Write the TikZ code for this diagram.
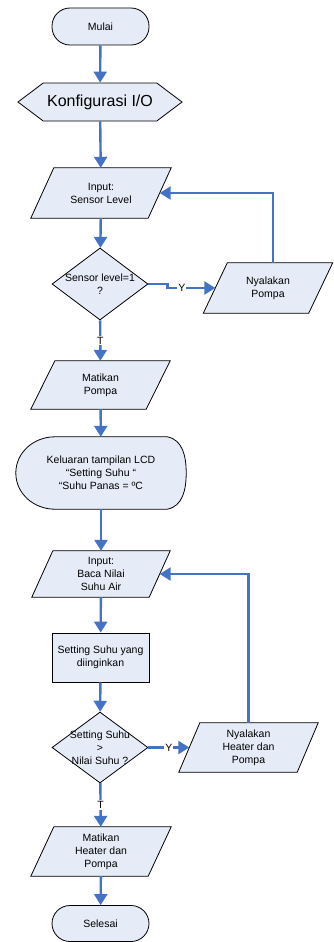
\documentclass[tikz,border=0pt]{standalone}
\usepackage{fontspec}
\setmainfont{Liberation Sans}
\usetikzlibrary{shapes.geometric,shapes.symbols,arrows.meta,backgrounds}
\definecolor{alirbiru}{RGB}{68,114,196}
\definecolor{isibiru}{RGB}{230,236,247}

% jajaran genjang di belakang node #1, geser atas #2
\newcommand{\jajargenjang}[2]{%
    \begin{scope}[on background layer]
        \draw[kotak] ([xshift=#2]#1.north west) -- (#1.north east)
            -- ([xshift=-#2]#1.south east) -- (#1.south west) -- cycle;
    \end{scope}}

\begin{document}
\begin{tikzpicture}[x=1pt,y=-1pt,
    every node/.style={font=\fontsize{10.5}{13}\selectfont, align=center},
    kotak/.style={draw=black, line width=0.8pt, fill=isibiru, inner sep=0pt},
    terminal/.style={kotak, rounded corners=18pt, minimum width=97pt, minimum height=37pt},
    masukan/.style={inner sep=0pt, minimum width=140pt, minimum height=49pt},
    keputusan/.style={kotak, diamond, minimum width=96pt, minimum height=72pt},
    alir/.style={draw=alirbiru, line width=2.4pt, -{Triangle[width=13pt,length=11pt]}},
    ket/.style={fill=white, inner sep=1pt}]

    \useasboundingbox (0,0) rectangle (333,942);

    % mulai dan konfigurasi
    \node[terminal] (mulai) at (100.5,26.5) {Mulai};
    \node[kotak, signal, signal to=west and east, signal pointer angle=74,
        minimum width=164pt, minimum height=38pt,
        font=\fontsize{16}{19}\selectfont] (konfig) at (100,102) {Konfigurasi I/O};

    % bagian sensor level
    \node[masukan, minimum height=50pt] (in1) at (101,193) {Input:\\Sensor Level};
    \jajargenjang{in1}{23pt}
    \node[keputusan] (d1) at (100,284) {};
    \node (d1t) at (d1) {Sensor level=1\\?};
    \node[masukan, minimum width=129pt, minimum height=50pt] (pompa1) at (268,288) {Nyalakan\\Pompa};
    \jajargenjang{pompa1}{24pt}
    \node[masukan, minimum width=139pt, minimum height=48pt] (mati1) at (100.5,385) {Matikan\\Pompa};
    \jajargenjang{mati1}{24pt}

    % tampilan LCD
    \node[minimum width=170pt, minimum height=72pt, inner sep=0pt] (lcd) at (101,473)
        {Keluaran tampilan LCD\\“Setting Suhu “\\“Suhu Panas = ºC};
    \begin{scope}[on background layer]
        \draw[kotak] ([xshift=39pt]lcd.north west) -- ([xshift=-19pt]lcd.north east)
            to[out=-10,in=90] (lcd.east) to[out=-90,in=10] ([xshift=-19pt]lcd.south east)
            -- ([xshift=39pt]lcd.south west) to[out=180,in=-90] (lcd.west)
            to[out=90,in=180] cycle;
    \end{scope}

    % bagian suhu
    \node[masukan, minimum width=138pt, minimum height=46pt] (in2) at (101,574) {Input:\\Baca Nilai\\Suhu Air};
    \jajargenjang{in2}{21pt}
    \node[kotak, minimum width=97pt, minimum height=49pt] (atur) at (100.5,657.5) {Setting Suhu yang\\diinginkan};
    \node[keputusan, minimum height=71pt] (d2) at (100,747.5) {};
    \node (d2t) at (d2) {Setting Suhu\\>\\Nilai Suhu ?};
    \node[masukan, minimum width=139pt] (pompa2) at (248.5,747.5) {Nyalakan\\Heater dan\\Pompa};
    \jajargenjang{pompa2}{21pt}
    \node[masukan] (mati2) at (101,851.5) {Matikan\\Heater dan\\Pompa};
    \jajargenjang{mati2}{23pt}
    \node[terminal, minimum height=36pt] (selesai) at (100.5,923.5) {Selesai};

    % garis alir
    \draw[alir] (mulai) -- (konfig);
    \draw[alir] (konfig) -- (in1);
    \draw[alir] (in1) -- (d1);
    \draw[alir] (d1.east) -- ++(19,0) -- ++(0,4) -- node[ket, pos=0.3] {Y} ([xshift=12pt]pompa1.west);
    \draw[alir] ([xshift=5pt]pompa1.north) |- ([xshift=-11.5pt]in1.east);
    \draw[alir] (d1) -- node[ket] {T} (mati1);
    \draw[alir] (mati1) -- (lcd);
    \draw[alir] (lcd) -- (in2);
    \draw[alir] (in2) -- (atur);
    \draw[alir] (atur) -- (d2);
    \draw[alir] (d2) -- node[ket] {Y} ([xshift=10.5pt]pompa2.west);
    \draw[alir] (pompa2.north) |- ([xshift=-10.5pt]in2.east);
    \draw[alir] (d2) -- node[ket] {T} (mati2);
    \draw[alir] (mati2) -- (selesai);

\end{tikzpicture}
\end{document}
